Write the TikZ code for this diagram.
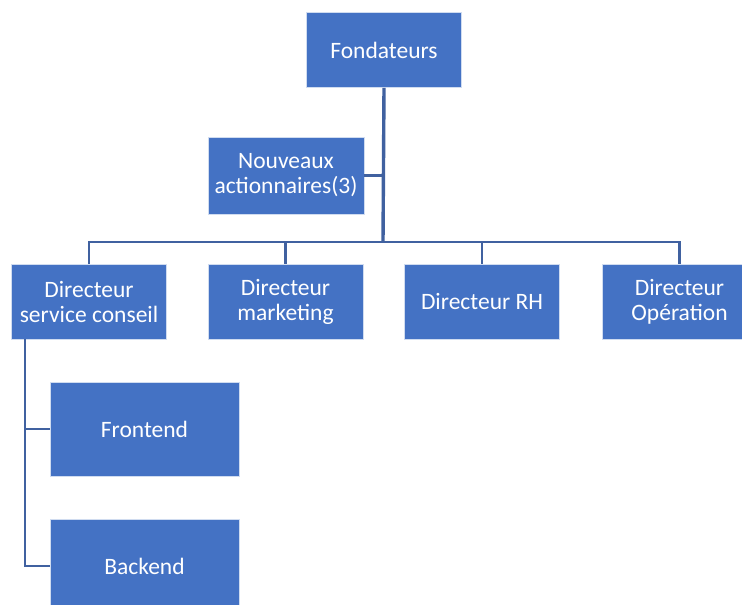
\documentclass[tikz,border=0pt]{standalone}
\usepackage{fontspec}
\setmainfont{Carlito}
\definecolor{boxblue}{RGB}{68,114,196}
\definecolor{linkblue}{RGB}{64,97,160}
\begin{document}
\begin{tikzpicture}[x=1pt,y=-1pt,
  orgbox/.style={fill=boxblue,draw=white!75!boxblue,line width=0.8pt,
    text=white,align=center,inner sep=0pt,
    font=\fontsize{23.5}{25}\selectfont,
    minimum width=155pt,minimum height=75pt},
  subbox/.style={orgbox,minimum width=189pt,minimum height=94pt},
  link/.style={draw=linkblue,line width=2.4pt},
  trunk/.style={draw=linkblue,line width=3.4pt}]
\clip (0,0) rectangle (742,605);
\fill[white] (0,0) rectangle (742,605);

% boxes
\node[orgbox] (fond) at (384,50) {Fondateurs};
\node[orgbox,minimum width=156pt,minimum height=77pt] (nouv) at (286,175.5) {Nouveaux\\actionnaires(3)};
\node[orgbox] (cons) at (89,301.5) {Directeur\\service conseil};
\node[orgbox] (mkt) at (285.5,301.5) {Directeur\\marketing};
\node[orgbox] (rh) at (482,301.5) {Directeur RH};
\node[orgbox] (opr) at (679.5,301.5) {Directeur\\Opération};
\node[subbox] (front) at (144.5,429) {Frontend};
\node[subbox] (back) at (144.5,566) {Backend};

% junction points
\coordinate (bar) at (383,242);
\coordinate (spine) at (25,0);

% connectors
\draw[trunk] (fond.south) -- (bar);
\draw[link] (nouv.east) -- (nouv.east -| bar);
\draw[link] (cons.north) |- (bar) -| (opr.north);
\draw[link] (mkt.north) -- (mkt.north |- bar);
\draw[link] (rh.north) -- (rh.north |- bar);
\draw[link] (cons.south -| spine) |- (front.west);
\draw[link] (cons.south -| spine) |- (back.west);
\end{tikzpicture}
\end{document}
